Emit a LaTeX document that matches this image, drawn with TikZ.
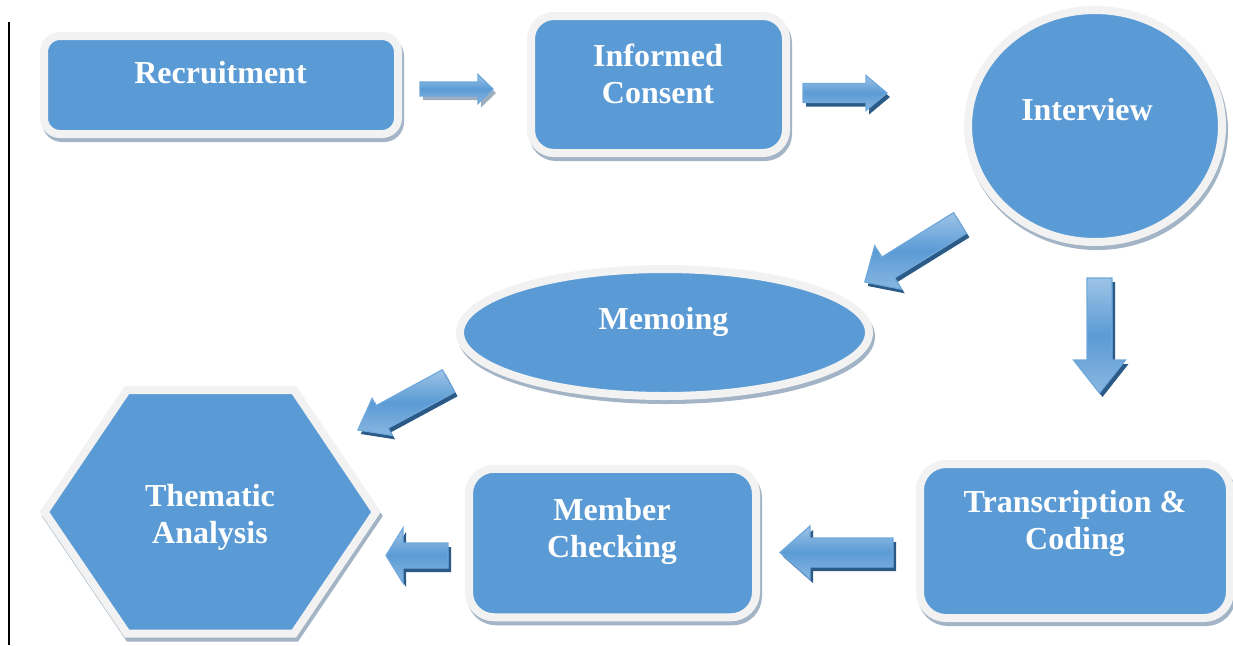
\documentclass[tikz,border=0pt]{standalone}
\usepackage{fontspec}
\setmainfont{Liberation Serif}
\usetikzlibrary{shapes.geometric}

\definecolor{boxblue}{HTML}{5B9BD5}
\definecolor{rimgray}{HTML}{F2F2F2}
\definecolor{dropgray}{HTML}{A3B4C6}
\definecolor{arrowlite}{HTML}{9DC3E6}
\definecolor{arrowedge}{HTML}{6FA8DC}
\definecolor{arrownavy}{HTML}{2B5A87}
\definecolor{arrowgray}{HTML}{9DAEC0}

% Block arrow: #1 tail centre, #2 direction (deg), #3 length,
% #4 shaft half-width, #5 head half-width, #6 head length, #7 shadow colour
\newcommand\blockarrow[7]{%
  \begin{scope}[shift={#1}]
    \begin{scope}[shift={(3,4)}, rotate=#2]
      \fill[#7] (0,-#4) -- ({#3-#6},-#4) -- ({#3-#6},-#5) -- (#3,0)
        -- ({#3-#6},#5) -- ({#3-#6},#4) -- (0,#4) -- cycle;
    \end{scope}
    \begin{scope}[rotate=#2]
      \shade[arrowbody] (0,-#4) -- ({#3-#6},-#4) -- ({#3-#6},-#5) -- (#3,0)
        -- ({#3-#6},#5) -- ({#3-#6},#4) -- (0,#4) -- cycle;
    \end{scope}
  \end{scope}}

\tikzset{
  card/.style={fill=boxblue, draw=rimgray, line width=4pt, inner sep=0pt,
    line join=miter,
    preaction={fill=dropgray, draw=dropgray, line width=4pt,
      transform canvas={shift={(1pt,-2pt)}}}},
  lbl/.style={text=white, font=\bfseries\fontsize{16}{18.5}\selectfont,
    align=center, inner sep=0pt},
  arrowbody/.style={top color=arrowlite, bottom color=arrowlite!70!boxblue,
    middle color=boxblue, draw=arrowedge, line width=0.6pt},
}

\begin{document}
\begin{tikzpicture}[x=0.5pt, y=-0.5pt]
\useasboundingbox (0,0) rectangle (1233,645);
\clip (0,0) rectangle (1233,645);

% margin rule on the left
\coordinate (ruletop) at (9,22);
\coordinate (rulebot) at (9,645);
\draw[line width=1pt] (ruletop) -- (rulebot);

% process shapes
\node[card, rounded corners=8pt, minimum width=177pt, minimum height=49pt]
  (rec) at (221,85) {};
\node[card, rounded corners=11.5pt, minimum width=127.5pt, minimum height=68.5pt]
  (con) at (658.5,84.5) {};
\node[card, ellipse, minimum width=127pt, minimum height=116pt]
  (int) at (1095,126) {};
\node[card, ellipse, minimum width=204.5pt, minimum height=63.5pt]
  (mem) at (664.5,332.5) {};
\node[card, rounded corners=13pt, minimum width=155pt, minimum height=77pt]
  (tra) at (1075,541) {};
\node[card, rounded corners=12.5pt, minimum width=143.5pt, minimum height=74.25pt]
  (chk) at (612.5,543) {};
\path[card] (44.5,512) -- (127,390) -- (294,390) -- (376,512)
  -- (294,633.5) -- (127,633.5) -- cycle;

% labels
\node[lbl] (rec-t) at (220.5,72.4) {Recruitment};
\node[lbl] (con-t) at (658,73.5) {Informed\\Consent};
\node[lbl] (int-t) at (1087,109.5) {Interview};
\node[lbl] (mem-t) at (663.5,321.5) {Memoing};
\node[lbl] (thm-t) at (210,517.7) {Thematic\\Analysis};
\node[lbl] (chk-t) at (612,531.5) {Member\\Checking};
\node[lbl] (tra-t) at (1075,523.7) {Transcription \&\\Coding};

% flow arrows
\blockarrow{(420,89)}{0}{73}{7}{14.5}{15}{arrowgray}
\blockarrow{(803,93)}{0}{84}{9.5}{17.5}{21}{arrownavy}
\blockarrow{(960,223)}{211.8}{112}{12.2}{25.6}{27.5}{arrownavy}
\blockarrow{(1099.5,278)}{-90}{115}{12.5}{26}{33}{arrownavy}
\blockarrow{(893,552.5)}{180}{113}{14.5}{26.5}{30}{arrownavy}
\blockarrow{(448,555.5)}{180}{62}{12.5}{27.5}{17}{arrownavy}
\blockarrow{(448.5,381)}{208.4}{103}{12.8}{21}{27.5}{arrownavy}
\end{tikzpicture}
\end{document}
